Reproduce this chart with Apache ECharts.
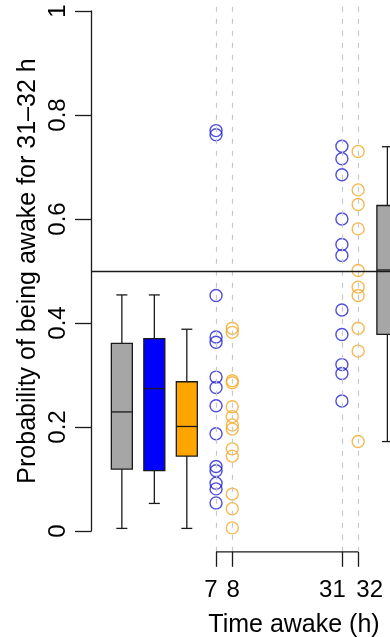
<!DOCTYPE html>
<html><head><meta charset="utf-8">
<script src="https://cdn.jsdelivr.net/npm/echarts@6/dist/echarts.min.js"></script>
<style>html,body{margin:0;padding:0;background:#fff}#c{width:390px;height:637px}</style>
</head><body><div id="c"></div>
<script>
// ---- data ----
const hourTicks = [7, 8, 31, 32];
const yTicks = [0, 0.2, 0.4, 0.6, 0.8, 1];
const refLevel = 0.5;
// box stats: [low whisker, Q1, median, Q3, high whisker]
const boxGray1 = [0.005, 0.119, 0.229, 0.361, 0.454];
const boxBlue = [0.053, 0.116, 0.274, 0.370, 0.454];
const boxOrange = [0.005, 0.144, 0.201, 0.287, 0.388];
const boxGray2 = [0.172, 0.378, 0.502, 0.626, 0.739];
// observed points
const blue7 = [0.770, 0.762, 0.453, 0.373, 0.363, 0.296, 0.276, 0.241, 0.187, 0.124, 0.116, 0.092, 0.081, 0.054];
const orange8 = [0.390, 0.382, 0.289, 0.285, 0.239, 0.220, 0.204, 0.196, 0.158, 0.144, 0.071, 0.043, 0.006];
const blue31 = [0.740, 0.716, 0.685, 0.600, 0.551, 0.530, 0.425, 0.378, 0.320, 0.303, 0.250];
const orange32 = [0.730, 0.656, 0.628, 0.581, 0.501, 0.469, 0.453, 0.390, 0.346, 0.172];

// ---- layout (plot units along x) ----
const boxX = [1, 3, 5, 17.35];
const hourX = [6.8, 7.8, 14.55, 15.55];
const X_MIN = -0.9, X_MAX = 24.1, Y_MIN = -0.04, Y_MAX = 1.04;
const boxFill = ['#a6a6a6', '#0000ff', '#ffa500', '#a6a6a6'];
const BLUE = '#2323d2', ORANGE = '#f4a726';
const FONT = '"Liberation Sans", Arial, Helvetica, sans-serif';
const INK = '#1a1a1a';

const boxes = [boxGray1, boxBlue, boxOrange, boxGray2];
const boxData = boxes.map((b, i) => [boxX[i]].concat(b));

function renderBox(params, api) {
  const x = api.value(0);
  const lo = api.coord([x, api.value(1)]);
  const q1 = api.coord([x, api.value(2)]);
  const md = api.coord([x, api.value(3)]);
  const q3 = api.coord([x, api.value(4)]);
  const hi = api.coord([x, api.value(5)]);
  const hw = 10.5, cw = 5.5;
  const ls = { stroke: INK, lineWidth: 1.3 };
  const cx = lo[0];
  return {
    type: 'group',
    children: [
      { type: 'line', shape: { x1: cx, y1: q3[1], x2: cx, y2: hi[1] }, style: ls },
      { type: 'line', shape: { x1: cx, y1: q1[1], x2: cx, y2: lo[1] }, style: ls },
      { type: 'line', shape: { x1: cx - cw, y1: hi[1], x2: cx + cw, y2: hi[1] }, style: ls },
      { type: 'line', shape: { x1: cx - cw, y1: lo[1], x2: cx + cw, y2: lo[1] }, style: ls },
      { type: 'rect', shape: { x: cx - hw, y: q3[1], width: 2 * hw, height: q1[1] - q3[1] },
        style: { fill: boxFill[params.dataIndex], stroke: INK, lineWidth: 1.3 } },
      { type: 'line', shape: { x1: cx - hw, y1: md[1], x2: cx + hw, y2: md[1] }, style: ls }
    ]
  };
}

function scatter(xPos, vals, col) {
  return {
    type: 'scatter', xAxisIndex: 0, yAxisIndex: 0, z: 4, silent: true,
    symbol: 'circle', symbolSize: 12,
    itemStyle: { color: 'rgba(0,0,0,0)', borderColor: col, borderWidth: 1.4 },
    data: vals.map(v => [xPos, v])
  };
}

// label nudges (rich-text padding) so the tight pairs read "7 8" and "31 32"
const labelRich = {
  a: { fontSize: 24, color: '#000', fontFamily: FONT, padding: [0, 10, 0, 0] },
  b: { fontSize: 24, color: '#000', fontFamily: FONT, padding: [0, 0, 0, 2] },
  c: { fontSize: 24, color: '#000', fontFamily: FONT, padding: [0, 19, 0, 0] },
  d: { fontSize: 24, color: '#000', fontFamily: FONT, padding: [0, 0, 0, 23] }
};
const richKey = ['a', 'b', 'c', 'd'];

function hourAxis(idxs, withName) {
  const vals = idxs.map(i => hourX[i]);
  const ax = {
    type: 'value', gridIndex: 0, position: 'bottom', min: X_MIN, max: X_MAX,
    splitLine: { show: false },
    axisLine: { show: true, lineStyle: { color: 'rgba(0,0,0,0)', width: 1 } },
    axisTick: { show: true, customValues: vals, length: 15, lineStyle: { color: INK, width: 1.3 } },
    axisLabel: {
      show: true, customValues: vals, margin: 27, hideOverlap: false,
      fontSize: 24, color: '#000', fontFamily: FONT, rich: labelRich,
      formatter: function (v) {
        let best = 0;
        hourX.forEach((p, i) => { if (Math.abs(p - v) < Math.abs(hourX[best] - v)) best = i; });
        return '{' + richKey[best] + '|' + hourTicks[best] + '}';
      }
    }
  };
  if (withName) {
    ax.name = 'Time awake (h)';
    ax.nameLocation = 'middle';
    ax.nameGap = 61;
    ax.nameTextStyle = { fontSize: 25, color: '#000', fontFamily: FONT };
  }
  return ax;
}

const chart = echarts.init(document.getElementById('c'), null, { renderer: 'canvas' });
chart.setOption({
  animation: false,
  backgroundColor: '#ffffff',
  textStyle: { fontFamily: FONT },
  grid: [
    { left: 91, top: -9.8, width: 406, height: 561.6, containLabel: false, outerBoundsMode: 'none' },
    { left: 91, top: 11, width: 1, height: 520, containLabel: false, outerBoundsMode: 'none' }
  ],
  xAxis: [
    { type: 'value', gridIndex: 0, min: X_MIN, max: X_MAX, show: false, splitLine: { show: false } },
    { type: 'value', gridIndex: 1, show: false, min: 0, max: 1 },
    hourAxis([0, 2], true),
    hourAxis([1, 3], false)
  ],
  yAxis: [
    { type: 'value', gridIndex: 0, min: Y_MIN, max: Y_MAX, show: false, splitLine: { show: false } },
    {
      type: 'value', gridIndex: 1, min: 0, max: 1, interval: 0.2,
      splitLine: { show: false },
      axisLine: { show: true, lineStyle: { color: INK, width: 1.3 } },
      axisTick: { show: true, length: 16, lineStyle: { color: INK, width: 1.3 } },
      axisLabel: {
        rotate: 90, margin: 21, fontSize: 24, color: '#000', fontFamily: FONT,
        formatter: v => { const t = yTicks.find(k => Math.abs(k - v) < 1e-9); return t === undefined ? '' : String(t); }
      },
      name: 'Probability of being awake for 31\u201332 h',
      nameLocation: 'middle', nameRotate: 90, nameGap: 50,
      nameTextStyle: { fontSize: 25, color: '#000', fontFamily: FONT }
    }
  ],
  series: [
    {
      type: 'line', xAxisIndex: 0, yAxisIndex: 0, z: 1, silent: true, symbol: 'none', data: [],
      markLine: {
        silent: true, symbol: 'none', label: { show: false }, animation: false,
        lineStyle: { color: '#c8c8c8', type: [5, 7], width: 1.2 },
        data: hourX.map(x => ({ xAxis: x }))
      }
    },
    {
      type: 'custom', xAxisIndex: 0, yAxisIndex: 0, z: 3, silent: true,
      renderItem: renderBox, data: boxData, encode: { x: 0, y: [1, 2, 3, 4, 5] }
    },
    scatter(hourX[0], blue7, BLUE),
    scatter(hourX[1], orange8, ORANGE),
    scatter(hourX[2], blue31, BLUE),
    scatter(hourX[3], orange32, ORANGE),
    {
      type: 'line', xAxisIndex: 0, yAxisIndex: 0, z: 5, silent: true, symbol: 'none', data: [],
      markLine: {
        silent: true, symbol: 'none', label: { show: false }, animation: false,
        lineStyle: { color: INK, type: 'solid', width: 1.3 },
        data: [{ yAxis: refLevel }]
      }
    },
    {
      type: 'line', xAxisIndex: 0, yAxisIndex: 0, z: 5, silent: true, symbol: 'none', clip: false,
      lineStyle: { color: INK, width: 1.3 },
      data: [[hourX[0], Y_MIN], [hourX[hourX.length - 1], Y_MIN]]
    }
  ]
});
</script>
</body></html>
